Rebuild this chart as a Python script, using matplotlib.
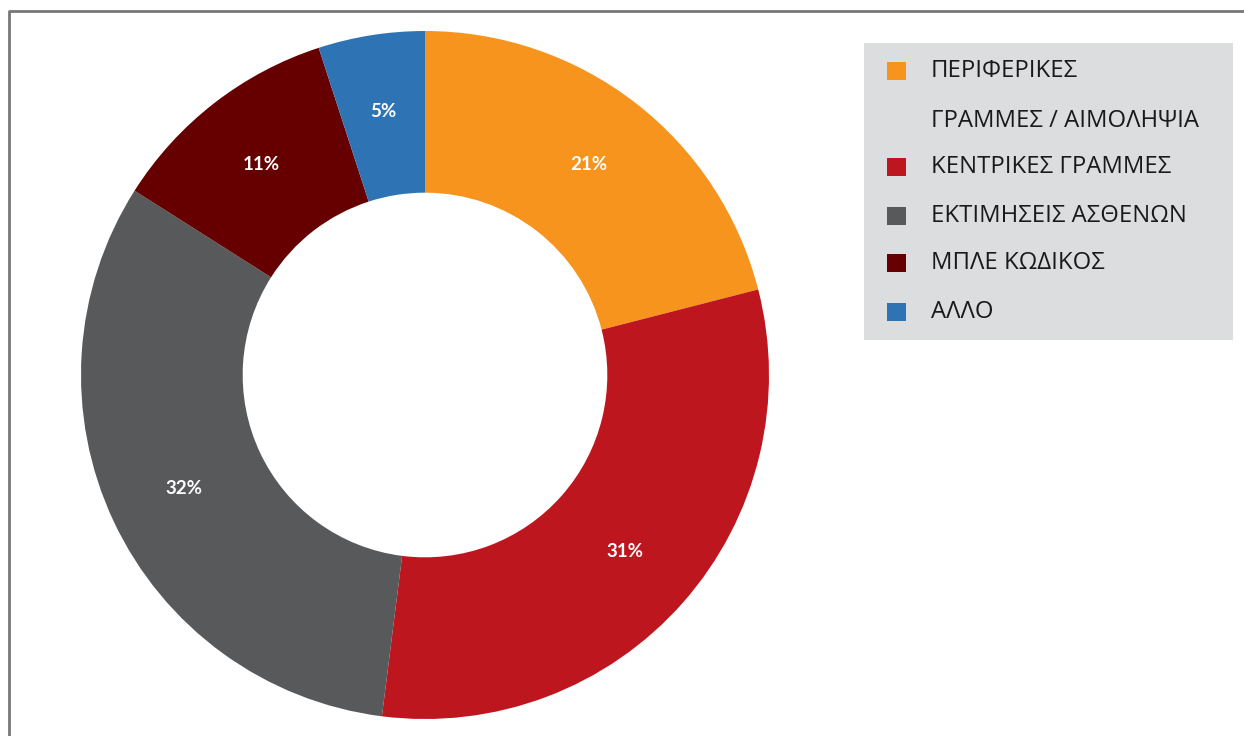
import matplotlib.pyplot as plt
from matplotlib.patches import Rectangle
from matplotlib.lines import Line2D

labels = ['ΠΕΡΙΦΕΡΙΚΕΣ\nΓΡΑΜΜΕΣ / ΑΙΜΟΛΗΨΙΑ', 'ΚΕΝΤΡΙΚΕΣ ΓΡΑΜΜΕΣ',
          'ΕΚΤΙΜΗΣΕΙΣ ΑΣΘΕΝΩΝ', 'ΜΠΛΕ ΚΩΔΙΚΟΣ', 'ΑΛΛΟ']
values = [21, 31, 32, 11, 5]
colors = ['#F7941E', '#BE161E', '#58595B', '#660000', '#2E74B5']

W, H = 1244, 736
fig = plt.figure(figsize=(W / 100, H / 100), dpi=100)

# donut: centre (425, 375) px, outer radius 344 px
cx, cy, R = 425, 375, 344
ax = fig.add_axes([(cx - R) / W, (H - cy - R) / H, 2 * R / W, 2 * R / H])
wedges, texts, autotexts = ax.pie(values, colors=colors, startangle=90, counterclock=False,
                                  radius=1, wedgeprops=dict(width=0.47, linewidth=0),
                                  autopct='%d%%', pctdistance=0.775,
                                  textprops=dict(color='white', fontsize=13.5,
                                                 fontweight='bold', family='Lato'))
ax.set_xlim(-1, 1)
ax.set_ylim(-1, 1)
ax.set_aspect('equal')
ax.axis('off')

# frame lines (top and left)
fig.add_artist(Line2D([9 / W, 9 / W, 1.0], [0.0, 1 - 11 / H, 1 - 11 / H],
                      transform=fig.transFigure, color='#777777', linewidth=2))

# legend box
fig.add_artist(Rectangle((864 / W, 1 - 340 / H), (1233 - 864) / W, (340 - 43) / H,
                         transform=fig.transFigure, facecolor='#DCDDDF', edgecolor='none'))
rows = [71, 167, 216, 263, 312]
for lab, col, y in zip(labels, colors, rows):
    fig.add_artist(Rectangle((887 / W, 1 - (y + 9) / H), 19 / W, 18 / H,
                             transform=fig.transFigure, facecolor=col, edgecolor='none'))
    lines = lab.split('\n')
    for i, ln in enumerate(lines):
        fig.text(931 / W, 1 - (y + i * 50) / H, ln, fontsize=17.2, family='Open Sans',
                 color='#1a1a1a', va='center', ha='left')

fig.savefig('out.png', dpi=100)
